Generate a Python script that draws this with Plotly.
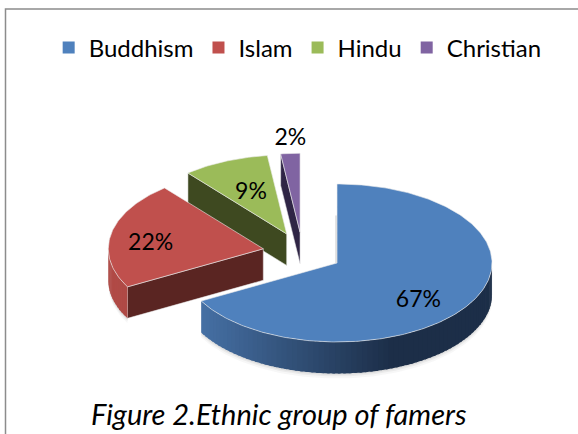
import math
import plotly.graph_objects as go

categories = ["Buddhism", "Islam", "Hindu", "Christian"]
values = [67, 22, 9, 2]
labels = ["67%", "22%", "9%", "2%"]
top_colors = ["#4F81BD", "#C0504D", "#9BBB59", "#8064A2"]
wall_colors = ["#1E324C", "#5A2522", "#3E4920", "#2F2545"]
rim_light = [(72, 116, 170), (176, 74, 70), (90, 110, 50), (70, 55, 100)]
rim_dark = [(28, 46, 72), (140, 60, 56), (62, 73, 32), (47, 37, 69)]
label_frac = [(0.61, 0.95), (0.74, 0.33), (0.58, 0.56), (1.0, 1.18)]

CX, CY = 302.6, 252.6
RX, RY = 155.0, 79.0
DEPTH = 31.5
EXPLODE = 40.0

total = sum(values)


def ell(a, r=1.0):
    return math.sin(a) * RX * r, -math.cos(a) * RY * r


def arc(a0, a1, step=math.radians(1)):
    n = max(2, int(abs(a1 - a0) / step) + 1)
    return [a0 + (a1 - a0) * i / (n - 1) for i in range(n)]


fig = go.Figure()
wedges = []
acc = 0.0
for v in values:
    a0 = acc / total * 2 * math.pi
    acc += v
    a1 = acc / total * 2 * math.pi
    mid = (a0 + a1) / 2
    dx, dy = ell(mid)
    ax = CX + dx / RX * EXPLODE
    ay = CY + dy / RY * EXPLODE * RY / RX
    wedges.append((a0, a1, ax, ay))


def poly(xs, ys, fill, line="rgba(0,0,0,0)", width=0):
    fig.add_trace(go.Scatter(x=xs, y=ys, mode="lines", fill="toself", fillcolor=fill,
                             line=dict(color=line, width=width), showlegend=False,
                             hoverinfo="skip"))


# soft shadow under the slices
for off, alpha in [(5, 0.05), (3, 0.07), (1.5, 0.09)]:
    for i in (1, 0):
        a0, a1, ax, ay = wedges[i]
        pts = arc(max(a0, math.pi / 2), min(a1, 1.5 * math.pi))
        xs = [ax + ell(a)[0] for a in pts]
        ys = [ay + ell(a)[1] + DEPTH + off for a in pts]
        xs += [ax + ell(a)[0] for a in reversed(pts)]
        ys += [ay + ell(a)[1] for a in reversed(pts)]
        poly(xs, ys, f"rgba(90,90,90,{alpha})")

# back to front: Christian, Hindu, Islam, Buddhism
for i in [3, 2, 1, 0]:
    a0, a1, ax, ay = wedges[i]
    # cut wall on the leading edge (visible only for left-hand slices)
    if a0 > math.pi:
        ex, ey = ell(a0)
        poly([ax, ax + ex, ax + ex, ax, ax],
             [ay, ay + ey, ay + ey + DEPTH, ay + DEPTH, ay],
             wall_colors[i], "rgba(235,235,235,0.7)", 0.8)
    # outer rim, shaded in strips that overlap slightly
    lo, hi = max(a0, math.pi / 2), min(a1, 1.5 * math.pi)
    if lo < hi:
        pts = arc(lo, hi, math.radians(2))
        for p, q in zip(pts[:-1], pts[1:]):
            t = max(0.0, min(1.0, (math.sin((p + q) / 2) + 0.95) / 1.3))
            c = [round(rim_light[i][k] + (rim_dark[i][k] - rim_light[i][k]) * t) for k in range(3)]
            col = f"rgb({c[0]},{c[1]},{c[2]})"
            q2 = min(hi, q + math.radians(1))
            px, py = ell(p)
            qx, qy = ell(q2)
            poly([ax + px, ax + qx, ax + qx, ax + px, ax + px],
                 [ay + py, ay + qy, ay + qy + DEPTH, ay + py + DEPTH, ay + py],
                 col)
    # top face
    pts = arc(a0, a1)
    xs = [ax] + [ax + ell(a)[0] for a in pts] + [ax]
    ys = [ay] + [ay + ell(a)[1] for a in pts] + [ay]
    poly(xs, ys, top_colors[i], "rgba(235,235,235,0.75)", 0.8)

# faint inner edge of the large slice
a0, a1, ax, ay = wedges[0]
fig.add_trace(go.Scatter(x=[ax - 1, ax - 1], y=[ay, ay - RY + DEPTH], mode="lines",
                         line=dict(color="#C8C8C8", width=1), showlegend=False, hoverinfo="skip"))

# percentage labels
lx, ly = [], []
for (a0, a1, ax, ay), (fx, fy) in zip(wedges, label_frac):
    dx, dy = ell((a0 + a1) / 2)
    lx.append(ax + dx * fx)
    ly.append(ay + dy * fy)
fig.add_trace(go.Scatter(x=lx, y=ly, mode="text", text=labels, showlegend=False, hoverinfo="skip",
                         textfont=dict(family="Lato", size=23, color="black")))

# legend entries
for name, col in zip(categories, top_colors):
    fig.add_trace(go.Scatter(x=[None], y=[None], mode="markers", name=name,
                             marker=dict(symbol="square", size=12, color=col)))

fig.update_layout(
    width=578, height=434, margin=dict(l=0, r=0, t=0, b=0),
    paper_bgcolor="white", plot_bgcolor="white",
    xaxis=dict(range=[0, 578], visible=False, fixedrange=True),
    yaxis=dict(range=[434, 0], visible=False, fixedrange=True),
    legend=dict(orientation="h", x=0.515, xanchor="center", y=1 - 48 / 434, yanchor="middle",
                font=dict(family="Lato", size=24, color="black"), bgcolor="rgba(0,0,0,0)",
                itemwidth=30, tracegroupgap=0),
    annotations=[dict(text="<i>Figure 2.Ethnic group of famers</i>", xref="paper", yref="paper",
                      x=279 / 578, y=1 - 413 / 434, xanchor="center", yanchor="middle", showarrow=False,
                      font=dict(family="Lato", size=29, color="black"))],
    shapes=[dict(type="rect", xref="paper", yref="paper", x0=5.5 / 578, x1=1.01, y0=-0.01, y1=1 - 9 / 434,
                 line=dict(color="#8C8C8C", width=1.5))],
)
fig.write_html("out.html", config={"displayModeBar": False},
               post_script="document.body.style.margin='0';")
